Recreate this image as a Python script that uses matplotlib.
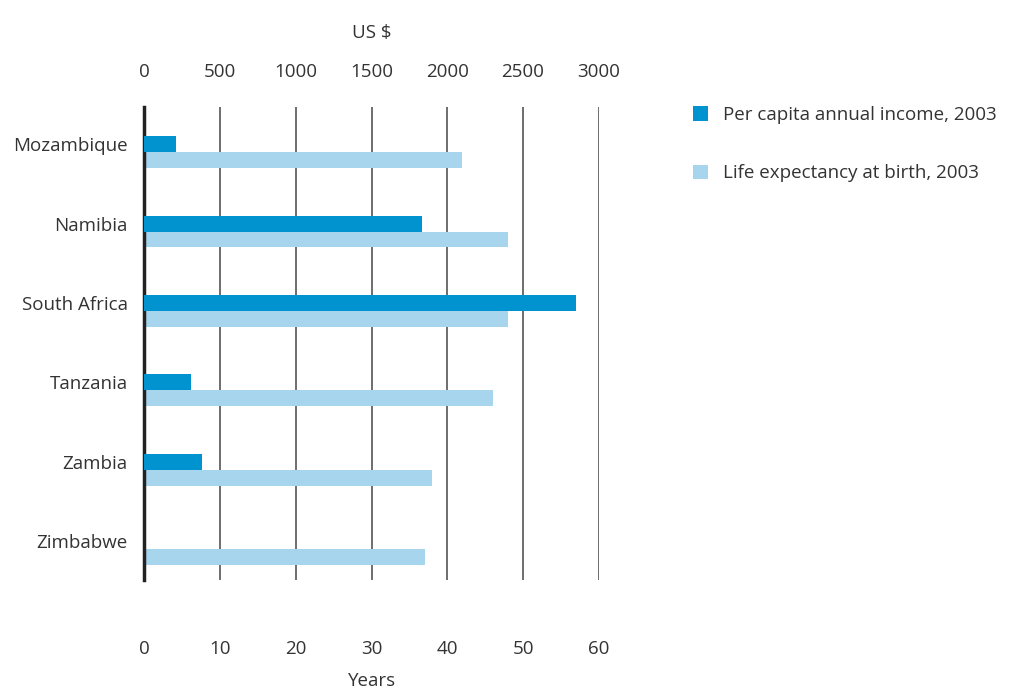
import matplotlib
matplotlib.use("Agg")
import matplotlib.pyplot as plt
import numpy as np

countries = ["Mozambique", "Namibia", "South Africa", "Tanzania", "Zambia", "Zimbabwe"]
income_usd = [210, 1830, 2850, 310, 380, 0]
life_expectancy = [42, 48, 48, 46, 38, 37]
income_ticks = [0, 500, 1000, 1500, 2000, 2500, 3000]
year_ticks = [0, 10, 20, 30, 40, 50, 60]

dark_blue = "#0093D0"
light_blue = "#A7D5EE"
text_col = "#333333"

plt.rcParams['font.family'] = ['Open Sans', 'DejaVu Sans']
fs = 13.5

fig = plt.figure(figsize=(10.2, 6.9), dpi=100)
ax = fig.add_axes([144.5/1020, 1-580/690, (598.7-144.5)/1020, (580-107)/690])

pos = np.arange(len(countries))
h = 0.2
ax.barh(pos + h/2, life_expectancy, height=h, color=light_blue, zorder=3,
        label="Life expectancy at birth, 2003")
ax.set_xlim(0, 60)
ax.set_ylim(5.39, -0.57)
ax.set_xticks(year_ticks)
ax.set_xticklabels([str(t) for t in year_ticks])
ax.set_yticks(pos - h/2)
ax.set_yticklabels(countries)
ax.tick_params(axis='x', length=0, pad=43, labelsize=fs, colors=text_col)
ax.tick_params(axis='y', length=0, pad=12, labelsize=fs, colors=text_col)
ax.grid(axis='x', color='#555555', linewidth=1.2, zorder=0)
for s in ['top', 'right', 'bottom']:
    ax.spines[s].set_visible(False)
ax.spines['left'].set_linewidth(2.5)
ax.spines['left'].set_color('#222222')
ax.spines['left'].set_zorder(5)
ax.set_xlabel("Years", fontsize=fs, color=text_col, labelpad=10)

ax2 = ax.twiny()
ax2.barh(pos - h/2, income_usd, height=h, color=dark_blue, zorder=3,
         label="Per capita annual income, 2003")
ax2.set_xlim(0, 3000)
ax2.set_xticks(income_ticks)
ax2.set_xticklabels([str(t) for t in income_ticks])
ax2.tick_params(axis='x', length=0, pad=19, labelsize=fs, colors=text_col)
for s in ['top', 'right', 'bottom', 'left']:
    ax2.spines[s].set_visible(False)
ax2.set_xlabel("US $", fontsize=fs, color=text_col, labelpad=18)

h1, l1 = ax2.get_legend_handles_labels()
h2, l2 = ax.get_legend_handles_labels()
leg = fig.legend(h1 + h2, l1 + l2, loc='upper left',
                 bbox_to_anchor=(676/1020, 1-89/690), frameon=False,
                 fontsize=fs, handlelength=0.8, handleheight=0.8,
                 handletextpad=0.8, labelspacing=2.15)
for t in leg.get_texts():
    t.set_color(text_col)

fig.savefig("out.png", dpi=100)
